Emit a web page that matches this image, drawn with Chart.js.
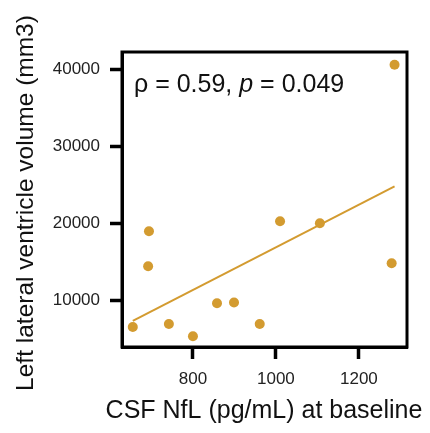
<!DOCTYPE html>
<html><head><meta charset="utf-8">
<script src="https://cdn.jsdelivr.net/npm/chart.js@4/dist/chart.umd.min.js"></script>
<style>html,body{margin:0;padding:0;background:#fff}#wrap{width:430px;height:433px}</style>
</head><body><div id="wrap"><canvas id="c" width="430" height="433"></canvas></div>
<script>
const nfl = [655, 694, 692, 742, 800, 858, 899, 961, 1010, 1106, 1279, 1286];
const volume = [6500, 18960, 14400, 6900, 5300, 9600, 9700, 6900, 20260, 20000, 14800, 40650];
const fitX = [655, 1286];
const fitY = [7300, 24800];
const xTicks = [800, 1000, 1200];
const yTicks = [10000, 20000, 30000, 40000];
const xTitle = 'CSF NfL (pg/mL) at baseline';
const yTitle = 'Left lateral ventricle volume (mm3)';
const annotation = ['ρ = 0.59, ', 'p', ' = 0.049'];
const color = '#D39B30';
const FONT = '"Liberation Sans", Arial, sans-serif';

const boxPlugin = {
  id: 'box',
  afterDatasetsDraw(chart) {
    const a = chart.chartArea, ctx = chart.ctx;
    ctx.save();
    ctx.strokeStyle = '#000'; ctx.lineWidth = 3;
    ctx.strokeRect(a.left, a.top, a.right - a.left, a.bottom - a.top);
    ctx.fillStyle = '#111';
    ctx.textBaseline = 'alphabetic';
    ctx.textAlign = 'left';
    let x = a.left + 12, y = a.top + 40;
    ctx.font = '25px ' + FONT;
    ctx.fillText(annotation[0], x, y); x += ctx.measureText(annotation[0]).width;
    ctx.font = 'italic 25px ' + FONT;
    ctx.fillText(annotation[1], x, y); x += ctx.measureText(annotation[1]).width;
    ctx.font = '25px ' + FONT;
    ctx.fillText(annotation[2], x, y);
    // axis titles
    ctx.textAlign = 'center';
    ctx.font = '25px ' + FONT;
    ctx.fillText(xTitle, 264, 418);
    ctx.save();
    ctx.translate(33, 203);
    ctx.rotate(-Math.PI / 2);
    ctx.font = '24.5px ' + FONT;
    ctx.fillText(yTitle, 0, 0);
    ctx.restore();
    ctx.restore();
  }
};

new Chart(document.getElementById('c'), {
  type: 'scatter',
  data: {
    datasets: [
      { data: nfl.map((v, i) => ({x: v, y: volume[i]})), backgroundColor: color, borderColor: color, pointRadius: 5, pointBorderWidth: 0 },
      { type: 'line', data: fitX.map((v, i) => ({x: v, y: fitY[i]})), borderColor: color, borderWidth: 2, pointRadius: 0, fill: false }
    ]
  },
  plugins: [boxPlugin],
  options: {
    responsive: false, animation: false,
    layout: { padding: { top: 52, right: 23, left: 0, bottom: 0 } },
    plugins: { legend: { display: false }, tooltip: { enabled: false } },
    scales: {
      x: {
        type: 'linear', min: 629, max: 1316,
        afterBuildTicks: s => { s.ticks = xTicks.map(v => ({value: v})); },
        afterFit: s => { s.height = 86; },
        border: { display: true, color: '#000', width: 3 },
        grid: { drawOnChartArea: false, color: '#000', tickLength: 12, tickWidth: 3.5 },
        ticks: { color: '#222', font: { family: FONT, size: 17 }, padding: 10, callback: v => String(v) },
        title: { display: false }
      },
      y: {
        type: 'linear', min: 3900, max: 42300,
        afterBuildTicks: s => { s.ticks = yTicks.map(v => ({value: v})); },
        afterFit: s => { s.width = 122; },
        border: { display: true, color: '#000', width: 3 },
        grid: { drawOnChartArea: false, color: '#000', tickLength: 12, tickWidth: 3.5 },
        ticks: { color: '#222', font: { family: FONT, size: 17 }, padding: 10, callback: v => String(v) },
        title: { display: false }
      }
    }
  }
});
</script></body></html>
